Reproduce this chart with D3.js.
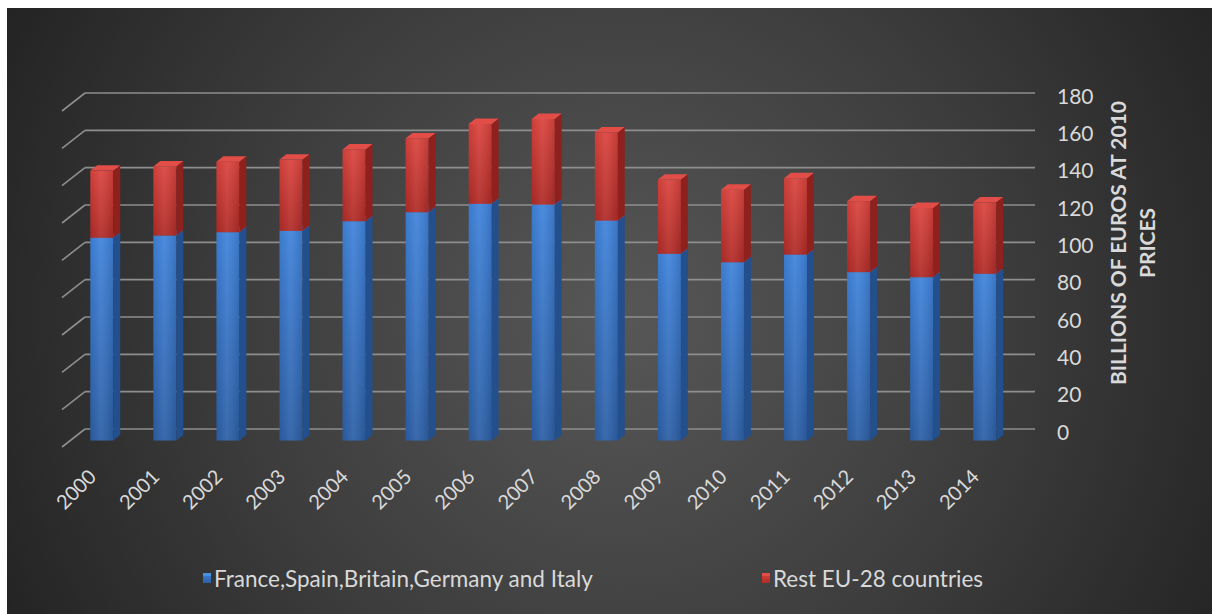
<!DOCTYPE html>
<html>
<head>
<meta charset="utf-8">
<script src="https://cdn.jsdelivr.net/npm/d3@7"></script>
<style>
  html, body { margin: 0; padding: 0; background: #ffffff; }
  svg { display: block; }
</style>
</head>
<body>
<svg id="chart" width="1212" height="614"></svg>
<script>
// Stacked spending by year, billions of euros at 2010 prices
const years = ["2000","2001","2002","2003","2004","2005","2006","2007","2008","2009","2010","2011","2012","2013","2014"];
const bigFive = [108.6,109.8,111.6,112.3,117.5,122.3,126.8,126.4,117.8,100.0,95.5,99.6,90.2,87.5,89.3];
const restEU  = [36.0,37.0,37.8,38.2,38.4,39.6,42.8,45.9,47.3,39.8,38.9,40.9,38.0,37.1,38.3];
const yTicks = [0,20,40,60,80,100,120,140,160,180];
const seriesNames = ["France,Spain,Britain,Germany and Italy", "Rest EU-28 countries"];
const axisTitle = ["BILLIONS OF EUROS AT 2010", "PRICES"];

const svg = d3.select("#chart");
const defs = svg.append("defs");
const FONT = "Lato, 'Open Sans', sans-serif";
const TEXT = "#d9d9d9";

// Background panel with a soft radial light in the middle
const bg = defs.append("radialGradient").attr("id", "bgGrad")
  .attr("gradientUnits", "userSpaceOnUse")
  .attr("cx", 620).attr("cy", 320).attr("r", 680);
bg.append("stop").attr("offset", 0).attr("stop-color", "#575757");
bg.append("stop").attr("offset", 0.55).attr("stop-color", "#3d3d3d");
bg.append("stop").attr("offset", 1).attr("stop-color", "#242424");
svg.append("rect").attr("x", 7).attr("y", 8).attr("width", 1205).attr("height", 606)
  .attr("fill", "url(#bgGrad)");

// Face gradients for the two series
function vGrad(id, top, bottom) {
  const g = defs.append("linearGradient").attr("id", id)
    .attr("x1", 0).attr("y1", 0).attr("x2", 0).attr("y2", 1);
  g.append("stop").attr("offset", 0).attr("stop-color", top);
  g.append("stop").attr("offset", 1).attr("stop-color", bottom);
}
function hGrad(id, left, mid, right) {
  const g = defs.append("linearGradient").attr("id", id)
    .attr("x1", 0).attr("y1", 0).attr("x2", 1).attr("y2", 0);
  g.append("stop").attr("offset", 0).attr("stop-color", left);
  g.append("stop").attr("offset", 0.45).attr("stop-color", mid);
  g.append("stop").attr("offset", 1).attr("stop-color", right);
}
vGrad("blueFrontV", "#3f82da", "#2c5fa6");
vGrad("redFrontV", "#da433d", "#b02b27");
hGrad("shineH", "rgba(0,0,0,0.06)", "rgba(255,255,255,0.07)", "rgba(0,0,0,0.10)");

const palette = [
  { front: "url(#blueFrontV)", side: "#234f8c", top: "#4a8ee0" },
  { front: "url(#redFrontV)",  side: "#8e211e", top: "#e24d47" }
];

// Oblique 3D projection: depth z in [0,1] runs from floor front to back wall
const depthX = 23, depthY = -18;
const x = d3.scaleBand().domain(years).range([62, 1008])
  .paddingInner(0.635).paddingOuter(0.3175);
const y = d3.scaleLinear().domain([0, 180]).range([447, 111]);
const P = (px, v, z) => [px + z * depthX, y(v) + z * depthY];
const zFront = 0.36, zBack = 0.66;

// Gridlines: back wall and the left side wall
const grid = svg.append("g").attr("stroke", "#8e8e8e").attr("stroke-width", 1.6).attr("fill", "none");
yTicks.forEach(t => {
  const b = P(x.range()[0], t, 1), f = P(x.range()[0], t, 0);
  grid.append("line").attr("x1", b[0]).attr("y1", b[1]).attr("x2", 1035).attr("y2", b[1]);
  grid.append("line").attr("x1", f[0]).attr("y1", f[1]).attr("x2", b[0]).attr("y2", b[1]);
});

// Value axis labels on the right
svg.append("g").selectAll("text").data(yTicks).join("text")
  .attr("x", 1057).attr("y", d => y(d) + depthY + 2)
  .attr("dominant-baseline", "central")
  .attr("font-family", FONT).attr("font-size", 21).attr("fill", TEXT)
  .text(d => d);

// Axis title, rotated, two lines
const title = svg.append("g").attr("transform", "translate(1117,243) rotate(-90)");
axisTitle.forEach((line, i) => {
  title.append("text").attr("x", 0).attr("y", i * 29)
    .attr("text-anchor", "middle").attr("dominant-baseline", "central")
    .attr("font-family", FONT).attr("font-weight", "bold").attr("font-size", 21)
    .attr("fill", TEXT).text(line);
});

// Stacked 3D columns
const stacked = years.map((yr, i) => ({
  year: yr,
  segs: [[0, bigFive[i]], [bigFive[i], bigFive[i] + restEU[i]]]
}));
const poly = pts => pts.map(p => p.join(",")).join(" ");

const bars = svg.append("g").selectAll("g").data(stacked).join("g");
bars.each(function(d) {
  const g = d3.select(this);
  const x0 = x(d.year), x1 = x0 + x.bandwidth();
  d.segs.forEach(([v0, v1], s) => {
    const c = palette[s];
    const fTL = P(x0, v1, zFront), fBR = P(x1, v0, zFront);
    g.append("rect")
      .attr("x", fTL[0]).attr("y", fTL[1])
      .attr("width", fBR[0] - fTL[0]).attr("height", fBR[1] - fTL[1])
      .attr("fill", c.front);
    g.append("rect")
      .attr("x", fTL[0]).attr("y", fTL[1])
      .attr("width", fBR[0] - fTL[0]).attr("height", fBR[1] - fTL[1])
      .attr("fill", "url(#shineH)");
    g.append("polygon")
      .attr("points", poly([P(x1, v0, zFront), P(x1, v0, zBack), P(x1, v1, zBack), P(x1, v1, zFront)]))
      .attr("fill", c.side);
    g.append("polygon")
      .attr("points", poly([P(x0, v1, zFront), P(x1, v1, zFront), P(x1, v1, zBack), P(x0, v1, zBack)]))
      .attr("fill", c.top);
  });
});

// Category labels, rotated
svg.append("g").selectAll("text").data(years).join("text")
  .attr("transform", d => `translate(${x(d) + x.bandwidth() / 2 + 4},478) rotate(-45)`)
  .attr("text-anchor", "end")
  .attr("font-family", FONT).attr("font-size", 20).attr("fill", TEXT)
  .text(d => d);

// Legend
const legendX = [203, 762];
const legend = svg.append("g").selectAll("g").data(seriesNames).join("g")
  .attr("transform", (d, i) => `translate(${legendX[i]},578)`);
legend.append("rect").attr("x", 0).attr("y", -5).attr("width", 8).attr("height", 10)
  .attr("fill", (d, i) => palette[i].front);
legend.append("rect").attr("x", 0).attr("y", -5).attr("width", 8).attr("height", 3)
  .attr("fill", (d, i) => palette[i].top);
legend.append("text").attr("x", 11).attr("y", 0)
  .attr("dominant-baseline", "central")
  .attr("font-family", FONT).attr("font-size", 22.5).attr("fill", TEXT)
  .text(d => d);
</script>
</body>
</html>
